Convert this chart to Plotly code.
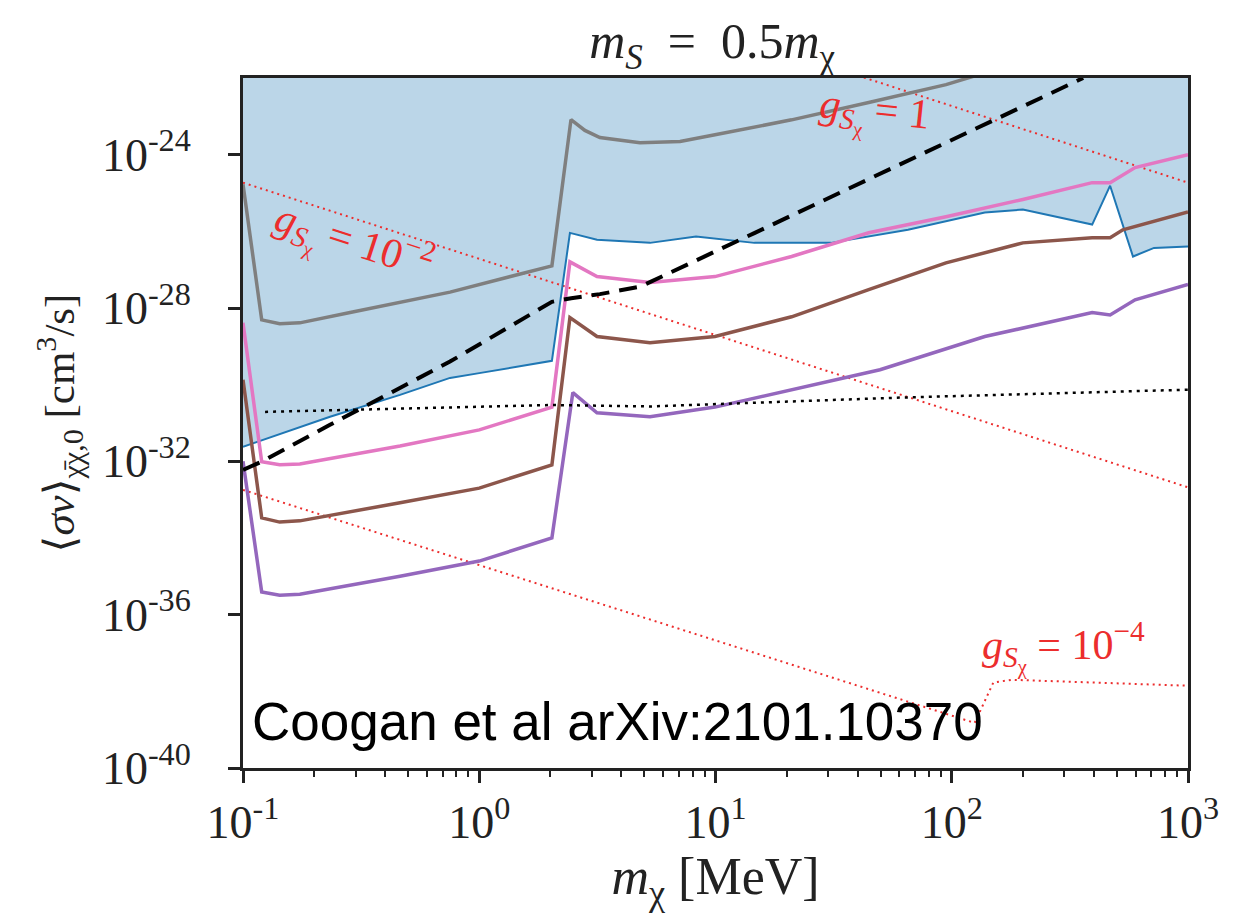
import plotly.graph_objects as go

# ---------------- data ----------------
# grey curve
m_gray = [0.1, 0.12, 0.143, 0.174, 0.284, 0.752, 2.03, 2.445, 2.80, 3.24, 4.79, 7.08, 9.95, 21.0, 44.5, 94.6, 145]
sv_gray = [1.7e-25, 4.9e-29, 3.9e-29, 4.1e-29, 7.6e-29, 2.6e-28, 1.26e-27, 8.2e-24, 4.3e-24, 2.8e-24,
           2.05e-24, 2.2e-24, 3.3e-24, 8.1e-24, 2.3e-23, 6.7e-23, 1.5e-22]

# blue curve (boundary of shaded region)
m_blue = [0.1, 0.2335, 0.462, 0.752, 1.0, 2.03, 2.42, 3.15, 5.28, 8.27, 14.6, 30.8, 65.3, 138, 200, 393, 468, 585, 718, 1000]
sv_blue = [2.4e-32, 1.45e-31, 5.4e-31, 1.5e-30, 2.0e-30, 4.2e-30, 9.1e-27, 6.0e-27, 5.0e-27, 7.3e-27,
           5.0e-27, 5.0e-27, 1.1e-26, 3.1e-26, 3.7e-26, 1.5e-26, 1.55e-25, 2.2e-27, 3.7e-27, 4.0e-27]

# pink curve
m_pink = [0.1, 0.12, 0.143, 0.174, 0.462, 1.0, 2.03, 2.42, 3.15, 5.28, 9.95, 21.0, 44.5, 94.5, 200, 393, 468, 597, 1000]
sv_pink = [4.1e-29, 9.8e-33, 8.1e-33, 8.5e-33, 2.5e-32, 6.6e-32, 2.6e-31, 1.6e-27, 6.6e-28, 4.6e-28,
           6.6e-28, 2.2e-27, 9.2e-27, 2.4e-26, 6.8e-26, 1.86e-25, 1.86e-25, 4.6e-25, 1.0e-24]

# brown curve
m_brown = [0.1, 0.12, 0.143, 0.174, 0.462, 1.0, 2.03, 2.42, 3.15, 5.28, 9.95, 21.0, 44.5, 94.5, 200, 393, 468, 530, 1000]
sv_brown = [1.35e-30, 3.35e-34, 2.6e-34, 2.8e-34, 8.3e-34, 2.0e-33, 8.1e-33, 5.6e-29, 1.8e-29, 1.24e-29,
            1.8e-29, 5.9e-29, 3.0e-28, 1.5e-27, 5.0e-27, 6.8e-27, 6.8e-27, 1.1e-26, 3.2e-26]

# purple curve
m_purple = [0.1, 0.12, 0.143, 0.174, 0.462, 1.0, 2.03, 2.49, 3.15, 5.28, 9.95, 22.8, 49.7, 138, 393, 468, 597, 1000]
sv_purple = [1.0e-32, 3.9e-36, 3.2e-36, 3.4e-36, 1.0e-35, 2.5e-35, 1.0e-34, 6.2e-31, 1.85e-31, 1.45e-31,
             2.6e-31, 8.3e-31, 2.45e-30, 1.8e-29, 7.6e-29, 6.6e-29, 1.64e-28, 4.1e-28]

# black dashed curve
m_dash = [0.1, 0.12, 0.2335, 0.752, 2.03, 2.45, 3.24, 4.8, 14.6, 60.0, 360]
sv_dash = [6.0e-33, 9.8e-33, 9.0e-32, 4.0e-30, 1.45e-28, 1.8e-28, 2.3e-28, 3.6e-28, 9.0e-27, 5.5e-25, 1.0e-22]

# black dotted curve
m_dot = [0.124, 2.03, 5.28, 60.5, 1000]
sv_dot = [1.95e-31, 2.95e-31, 2.7e-31, 4.6e-31, 7.4e-31]

# red dotted g_S contours
m_g1 = [10, 1000]
sv_g1 = [1.86e-21, 1.86e-25]
m_g2 = [0.1, 1000]
sv_g2 = [1.86e-25, 2.1e-33]
m_g4 = [0.1, 125, 150, 180, 1000]
sv_g4 = [1.8e-33, 1.5e-39, 1.7e-38, 2.0e-38, 1.4e-38]

Y_TOP = 1e-22
x_tickvals = [0.1, 1, 10, 100, 1000]
x_ticktext = ["10<sup>-1</sup>", "10<sup>0</sup>", "10<sup>1</sup>", "10<sup>2</sup>", "10<sup>3</sup>"]
y_tickvals = [1e-40, 1e-36, 1e-32, 1e-28, 1e-24]
y_ticktext = ["10<sup>-40</sup>", "10<sup>-36</sup>", "10<sup>-32</sup>", "10<sup>-28</sup>", "10<sup>-24</sup>"]
x_minor = [k * 10.0 ** e for e in range(-1, 3) for k in range(2, 10)]

SERIF = "Liberation Serif, DejaVu Serif, serif"
RED = "rgb(236,45,45)"

fig = go.Figure()

# shaded excluded region (above blue curve)
fig.add_trace(go.Scatter(
    x=m_blue + m_blue[::-1],
    y=sv_blue + [Y_TOP] * len(m_blue),
    fill="toself", fillcolor="rgba(31,119,180,0.3)",
    line=dict(width=0), mode="lines", hoverinfo="skip", showlegend=False))

def line(x, y, color, width, dash="solid"):
    fig.add_trace(go.Scatter(x=x, y=y, mode="lines",
                             line=dict(color=color, width=width, dash=dash),
                             showlegend=False))

line(m_g1, sv_g1, RED, 2, "2px,4px")
line(m_g2, sv_g2, RED, 2, "2px,4px")
line(m_g4, sv_g4, RED, 2, "2px,4px")
line(m_gray, sv_gray, "#7f7f7f", 3.5)
line(m_blue, sv_blue, "#1f77b4", 2)
line(m_pink, sv_pink, "#e377c2", 3.5)
line(m_brown, sv_brown, "#8c564b", 3.5)
line(m_purple, sv_purple, "#9467bd", 3.5)
line(m_dot, sv_dot, "black", 2.5, "3px,5px")
line(m_dash, sv_dash, "black", 4, "18px,10px")

# annotations
fig.add_annotation(x=-0.534, y=-26.30, xref="x", yref="y", showarrow=False, textangle=18,
                   text="<i>g</i><sub><i>S</i><sub>χ</sub></sub> = 10<sup>−2</sup>",
                   font=dict(family=SERIF, size=42, color=RED))
fig.add_annotation(x=1.675, y=-22.96, xref="x", yref="y", showarrow=False, textangle=6,
                   text="<i>g</i><sub><i>S</i><sub>χ</sub></sub> = 1",
                   font=dict(family=SERIF, size=42, color=RED))
fig.add_annotation(x=2.475, y=-36.84, xref="x", yref="y", showarrow=False,
                   text="<i>g</i><sub><i>S</i><sub>χ</sub></sub> = 10<sup>−4</sup>",
                   font=dict(family=SERIF, size=42, color=RED))
fig.add_annotation(x=0.0074, y=0.0667, xref="paper", yref="paper", xanchor="left", yanchor="middle",
                   showarrow=False, text="Coogan et al arXiv:2101.10370",
                   font=dict(family="Liberation Sans, Arial, sans-serif", size=53, color="black"))

axis_common = dict(
    type="log", showgrid=False, zeroline=False,
    showline=True, linecolor="#222", linewidth=3, mirror=True,
    ticks="outside", ticklen=12, tickwidth=2.5, tickcolor="#222",
    tickfont=dict(family=SERIF, size=46, color="#222"),
)

fig.update_layout(
    width=1231, height=909,
    margin=dict(l=235, r=51, t=70, b=149),
    paper_bgcolor="white", plot_bgcolor="white",
    title=dict(text="<i>m</i><sub><i>S</i></sub>\u2002=\u20020.5<i>m</i><sub>χ</sub>",
               x=0.572, xanchor="center", y=0.964, yanchor="middle",
               font=dict(family=SERIF, size=50, color="#222")),
    xaxis=dict(**axis_common, range=[-1, 3], tickvals=x_tickvals, ticktext=x_ticktext,
               minor=dict(tickvals=x_minor, ticks="outside", ticklen=6, tickwidth=2, tickcolor="#222"),
               title=dict(text="<i>m</i><sub>χ</sub> [MeV]", standoff=8,
                          font=dict(family=SERIF, size=52, color="#222"))),
    yaxis=dict(**axis_common, range=[-40, -22], tickvals=y_tickvals, ticktext=y_ticktext,
               ticklabelstandoff=28,
               title=dict(text="⟨<i>σv</i>⟩<sub>χ̄χ,0</sub> [cm<sup>3</sup>/s]", standoff=14,
                          font=dict(family=SERIF, size=43, color="#222"))),
)

fig.write_html("out.html")
